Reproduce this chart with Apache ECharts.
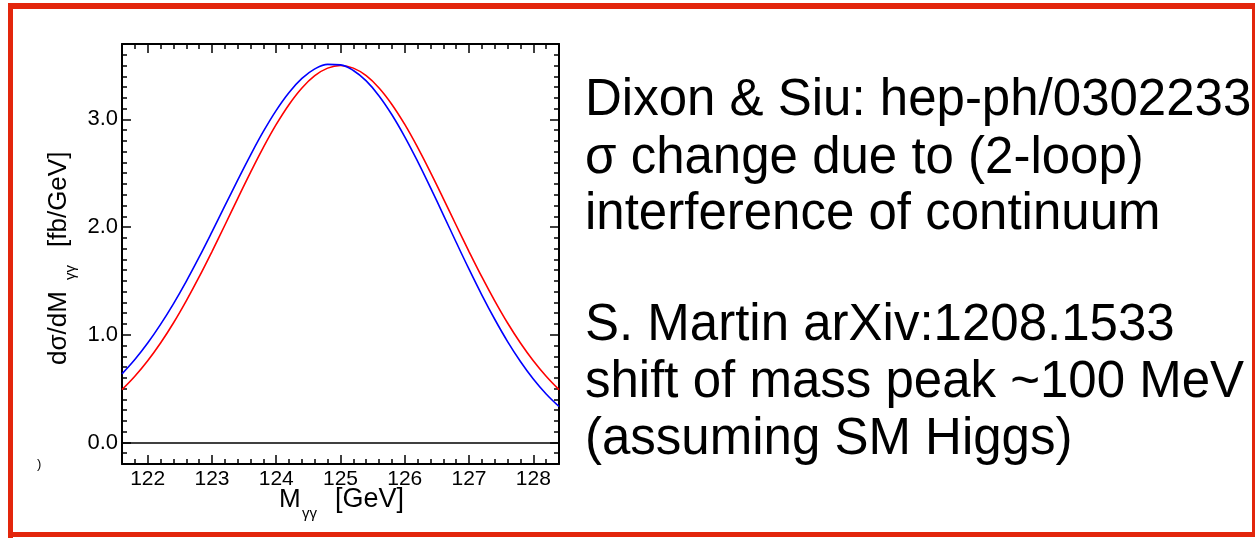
<!DOCTYPE html>
<html>
<head>
<meta charset="utf-8">
<title>Diphoton mass spectrum near 125 GeV</title>
<script src="https://cdn.jsdelivr.net/npm/echarts@6/dist/echarts.min.js"></script>
<style>
  html, body { margin: 0; padding: 0; background: #ffffff; }
  #chart { width: 1260px; height: 541px; }
</style>
</head>
<body>
<div id="chart"></div>
<script>
// Diphoton invariant mass grid, GeV
const massGeV = [
  121.6, 121.8, 122.0, 122.2, 122.4, 122.6, 122.8, 123.0, 123.2, 123.4,
  123.6, 123.8, 124.0, 124.2, 124.4, 124.6, 124.8, 125.0, 125.2, 125.4,
  125.6, 125.8, 126.0, 126.2, 126.4, 126.6, 126.8, 127.0, 127.2, 127.4,
  127.6, 127.8, 128.0, 128.2, 128.4
];

// dσ/dM without interference (red), fb/GeV
const signalOnly = [
  0.490, 0.614, 0.758, 0.923, 1.109, 1.315, 1.537, 1.773, 2.017, 2.265,
  2.508, 2.740, 2.953, 3.139, 3.292, 3.406, 3.476, 3.500, 3.476, 3.406,
  3.292, 3.139, 2.953, 2.740, 2.508, 2.265, 2.017, 1.773, 1.537, 1.315,
  1.109, 0.923, 0.758, 0.614, 0.490
];

// dσ/dM including interference with the continuum (blue), fb/GeV
const withInterference = [
  0.637, 0.770, 0.923, 1.096, 1.287, 1.496, 1.720, 1.955, 2.196, 2.436,
  2.669, 2.888, 3.084, 3.250, 3.380, 3.469, 3.511, 3.506, 3.454, 3.357,
  3.218, 3.043, 2.838, 2.610, 2.366, 2.114, 1.859, 1.609, 1.369, 1.144,
  0.937, 0.752, 0.589, 0.450, 0.334
];

// Labelled ticks
const xTickValues = [122, 123, 124, 125, 126, 127, 128];
const yTickValues = [0, 1, 2, 3];

// Notes printed beside the plot
const notesTop = [
  'Dixon & Siu: hep-ph/0302233',
  'σ change due to (2-loop)',
  'interference of continuum'
];
const notesBottom = [
  'S. Martin arXiv:1208.1533',
  'shift of mass peak ~100 MeV',
  '(assuming SM Higgs)'
];

const X_MIN = 121.6, X_MAX = 128.4;
const Y_MIN = -0.2, Y_MAX = 3.7;
const FONT = '"Liberation Sans", Arial, Helvetica, sans-serif';
const INK = '#000000';
const FRAME_RED = '#e3260c';

const zip = (xs, ys) => xs.map((x, i) => [x, ys[i]]);

function minorAxis(position) {
  const isX = position === 'bottom' || position === 'top';
  return {
    type: 'value',
    position: position,
    min: isX ? X_MIN : Y_MIN,
    max: isX ? X_MAX : Y_MAX,
    interval: isX ? 0.2 : 0.1,
    axisLine: { show: true, onZero: false, lineStyle: { color: INK, width: 2 } },
    axisTick: { show: true, inside: true, length: 5, lineStyle: { color: INK, width: 1.5 } },
    axisLabel: { show: false },
    splitLine: { show: false }
  };
}

function majorAxis(position, withLabels) {
  const isX = position === 'bottom' || position === 'top';
  const values = isX ? xTickValues : yTickValues;
  return {
    type: 'value',
    position: position,
    min: isX ? X_MIN : Y_MIN,
    max: isX ? X_MAX : Y_MAX,
    axisLine: { show: false, onZero: false },
    axisTick: {
      show: true, inside: true, length: 9, customValues: values,
      lineStyle: { color: INK, width: 1.5 }
    },
    axisLabel: {
      show: withLabels,
      customValues: values,
      color: INK,
      fontFamily: FONT,
      fontSize: isX ? 21 : 22,
      margin: isX ? 5 : 4,
      formatter: isX ? (v) => String(Math.round(v)) : (v) => v.toFixed(1)
    },
    splitLine: { show: false }
  };
}

// Frame around the whole slide
function border() {
  const s = { fill: FRAME_RED };
  return [
    { type: 'rect', shape: { x: 8, y: 3, width: 1247, height: 6 }, style: s, silent: true },
    { type: 'rect', shape: { x: 8, y: 3, width: 5, height: 535 }, style: s, silent: true },
    { type: 'rect', shape: { x: 8, y: 532, width: 1247, height: 5 }, style: s, silent: true },
    { type: 'rect', shape: { x: 1252, y: 3, width: 3, height: 534 }, style: s, silent: true }
  ];
}

function text(str, x, y, size, extra) {
  return Object.assign({
    type: 'text', x: x, y: y, silent: true,
    style: { text: str, font: size + 'px ' + FONT, fill: INK, align: 'left', verticalAlign: 'middle' }
  }, extra || {});
}

// Axis titles with γγ subscripts
function axisTitles() {
  const xTitle = [
    text('M', 279, 500, 26),
    text('γγ', 302, 514, 15),
    text('[GeV]', 335, 500, 27)
  ];
  const yTitle = {
    type: 'group', x: 59, y: 365, rotation: Math.PI / 2, silent: true,
    children: [
      text('dσ/dM', 0, 0, 26),
      text('γγ', 85, 12, 15),
      text('[fb/GeV]', 118, 0, 26)
    ]
  };
  return xTitle.concat([yTitle, text(')', 37, 464, 13)]);
}

function notes() {
  const out = [];
  const top = [101, 159, 215];
  const bottom = [326, 383, 440];
  notesTop.forEach((s, i) => out.push(text(s, 585, top[i], 51)));
  notesBottom.forEach((s, i) => out.push(text(s, 585, bottom[i], 51)));
  return out;
}

const chart = echarts.init(document.getElementById('chart'), null, { renderer: 'canvas' });

chart.setOption({
  backgroundColor: '#ffffff',
  animation: false,
  grid: { left: 122, top: 44, width: 437, height: 420, containLabel: false },
  xAxis: [
    minorAxis('bottom'),
    majorAxis('bottom', true),
    minorAxis('top'),
    majorAxis('top', false)
  ],
  yAxis: [
    minorAxis('left'),
    majorAxis('left', true),
    minorAxis('right'),
    majorAxis('right', false)
  ],
  series: [
    {
      name: 'signal only',
      type: 'line',
      xAxisIndex: 0, yAxisIndex: 0,
      data: zip(massGeV, signalOnly),
      showSymbol: false, smooth: 0.4,
      lineStyle: { color: '#ff0000', width: 1.6 },
      markLine: {
        silent: true, symbol: 'none', label: { show: false },
        lineStyle: { color: INK, width: 1.6, type: 'solid' },
        data: [{ yAxis: 0 }]
      },
      z: 3
    },
    {
      name: 'with interference',
      type: 'line',
      xAxisIndex: 0, yAxisIndex: 0,
      data: zip(massGeV, withInterference),
      showSymbol: false, smooth: 0.4,
      lineStyle: { color: '#0000ff', width: 1.6 },
      z: 3
    }
  ],
  graphic: { elements: border().concat(axisTitles(), notes()) }
});
</script>
</body>
</html>
